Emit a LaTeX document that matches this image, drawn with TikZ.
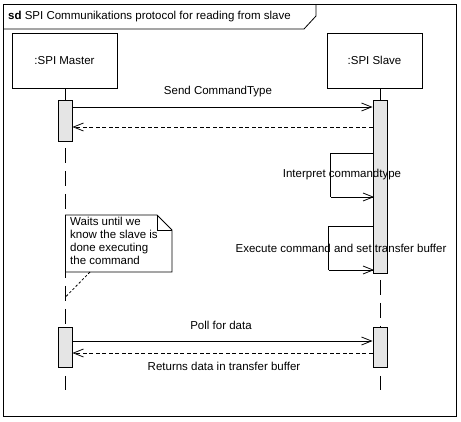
\documentclass[tikz,border=0pt]{standalone}
\usepackage{fontspec}
\setmainfont{Liberation Sans}
\usetikzlibrary{arrows.meta}
\begin{document}
\begin{tikzpicture}[x=1pt,y=-1pt,
  every node/.style={font=\fontsize{11.5}{13}\selectfont},
  line/.style={line width=0.8pt,black},
  lifebox/.style={draw,line width=0.8pt,minimum width=105pt,minimum height=55pt,inner sep=0pt},
  actbar/.style={draw,line width=0.8pt,fill=black!10,minimum width=14pt,inner sep=0pt,anchor=north},
  lifeline/.style={line width=0.8pt,dash pattern=on 15pt off 8pt},
  msg/.style={line width=0.8pt,-{Straight Barb[length=10pt,width=8pt,line width=0.8pt]}},
  reply/.style={msg,dash pattern=on 4pt off 2.5pt},
  lbl/.style={inner sep=1pt}]
\useasboundingbox (0,0) rectangle (461,421);
\fill[white] (0,0) rectangle (461,421);
% frame
\draw[line] (3,4) rectangle (456,416);
\draw[line] (3,29) -- (304,29) -- (316,16) -- (316,4);
\node[anchor=west,inner sep=0pt] (title) at (8,17) {\textbf{sd} SPI Communikations protocol for reading from slave};
% lifeline heads
\node[lifebox] (master) at (64.5,60.5) {:SPI Master};
\node[lifebox,minimum width=95pt] (slave) at (374.5,60.5) {:SPI Slave};
% activations
\node[actbar,minimum height=41pt] (ma1) at (65,100) {};
\node[actbar,minimum height=173pt] (sa1) at (380,100) {};
\node[actbar,minimum height=40pt] (ma2) at (65,327) {};
\node[actbar,minimum height=40pt] (sa2) at (380,327) {};
\coordinate (mtop) at (65,88);
\coordinate (stop) at (380,88);
\coordinate (mend) at (65,390);
\coordinate (send) at (380,390);
% lifelines
\draw[line] (mtop) -- (ma1.north);
\draw[line] (stop) -- (sa1.north);
\draw[lifeline] (ma1.south) ++(0,6) -- (ma2.north);
\draw[lifeline] (sa1.south) ++(0,6) -- (sa2.north);
\draw[lifeline] (ma2.south) ++(0,8) -- (mend);
\draw[lifeline] (sa2.south) ++(0,8) -- (send);
% note
\draw[line,fill=white] (65.5,215) -- (157,215) -- (172,230) -- (172,272) -- (65.5,272) -- cycle;
\draw[line] (157,215) -- (157,230) -- (172,230);
\node[anchor=north west,align=left,inner sep=0pt] (note) at (70,216.5) {Waits until we\\know the slave is\\done executing\\the command};
\coordinate (notefoot) at (90,272);
\coordinate (noteend) at (65.5,297);
\draw[line,dash pattern=on 2.5pt off 2pt] (notefoot) -- (noteend);
% messages
\draw[msg] ([yshift=-7pt]ma1.north east) -- ([yshift=-7pt]sa1.north west);
\node[lbl] (l1) at (218,92) {Send CommandType};
\draw[reply] ([yshift=-27pt]sa1.north west) -- ([yshift=-27pt]ma1.north east);
% self messages
\draw[line] ([yshift=-53pt]sa1.north west) -- ++(-42,0) -- ++(0,44) coordinate (c1);
\draw[msg] (c1) -- ([yshift=-97pt,xshift=1.5pt]sa1.north west);
\node[lbl] (l2) at (342,175) {Interpret commandtype};
\draw[line] ([yshift=-126pt]sa1.north west) -- ++(-44,0) -- ++(0,44) coordinate (c2);
\draw[msg] (c2) -- ([yshift=-170pt,xshift=1.5pt]sa1.north west);
\node[lbl] (l3) at (341,248) {Execute command and set transfer buffer};
% poll
\draw[msg] ([yshift=-14pt]ma2.north east) -- ([yshift=-14pt]sa2.north west);
\node[lbl] (l4) at (221,325) {Poll for data};
\draw[reply] ([yshift=-26pt]sa2.north west) -- ([yshift=-26pt]ma2.north east);
\node[lbl] (l5) at (224,366) {Returns data in transfer buffer};
\end{tikzpicture}
\end{document}
